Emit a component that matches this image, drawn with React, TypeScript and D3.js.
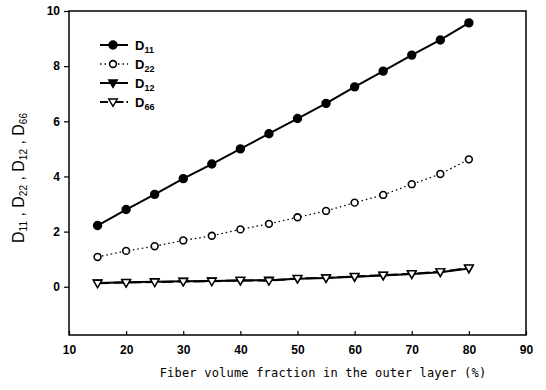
import React, { useEffect, useRef } from 'react';
import * as d3 from 'd3';

// Data
const fiberFraction = [15, 20, 25, 30, 35, 40, 45, 50, 55, 60, 65, 70, 75, 80];
const d11 = [2.22, 2.8, 3.35, 3.92, 4.45, 5.0, 5.55, 6.1, 6.65, 7.25, 7.82, 8.4, 8.95, 9.57];
const d22 = [1.08, 1.3, 1.47, 1.68, 1.85, 2.08, 2.28, 2.52, 2.75, 3.05, 3.33, 3.72, 4.09, 4.62];
const d12 = [0.14, 0.16, 0.18, 0.2, 0.21, 0.23, 0.24, 0.29, 0.32, 0.36, 0.41, 0.46, 0.53, 0.66];
const d66 = [0.13, 0.15, 0.17, 0.19, 0.2, 0.23, 0.22, 0.3, 0.32, 0.37, 0.42, 0.47, 0.54, 0.68];
const xTicks = [10, 20, 30, 40, 50, 60, 70, 80, 90];
const yTicks = [0, 2, 4, 6, 8, 10];

const App = () => {
  const ref = useRef<SVGSVGElement | null>(null);

  useEffect(() => {
    const svg = d3.select(ref.current);
    svg.selectAll('*').remove();

    const width = 546;
    const height = 390;
    const margin = { top: 11, right: 20, bottom: 55, left: 69 };
    const innerW = width - margin.left - margin.right;
    const innerH = height - margin.top - margin.bottom;
    const font = '"Liberation Sans", Arial, sans-serif';

    const x = d3.scaleLinear().domain([10, 90]).range([0, innerW]);
    const y = d3.scaleLinear().domain([-1.75, 10]).range([innerH, 0]);

    const g = svg.append('g').attr('transform', `translate(${margin.left},${margin.top})`);

    // frame
    g.append('rect')
      .attr('width', innerW)
      .attr('height', innerH)
      .attr('fill', 'none')
      .attr('stroke', '#000')
      .attr('stroke-width', 1.5);

    // y axis
    const yAxis = g.append('g')
      .call(d3.axisLeft(y).tickValues(yTicks).tickSize(5).tickPadding(4));
    yAxis.select('.domain').remove();
    yAxis.selectAll('line').attr('stroke-width', 1.2);
    yAxis.selectAll('text')
      .attr('font-family', font)
      .attr('font-weight', 'bold')
      .attr('font-size', '12px');

    // x axis (ticks inside)
    const xAxis = g.append('g')
      .attr('transform', `translate(0,${innerH})`)
      .call(d3.axisBottom(x).tickValues(xTicks).tickSize(-4).tickPadding(10));
    xAxis.select('.domain').remove();
    xAxis.selectAll('line').attr('stroke-width', 1.2);
    xAxis.selectAll('text')
      .attr('font-family', font)
      .attr('font-weight', 'bold')
      .attr('font-size', '12px');

    const series = [
      { key: 'D11', sub: '11', values: d11, dash: null, marker: 'circle', filled: true },
      { key: 'D22', sub: '22', values: d22, dash: '1.5,3', marker: 'circle', filled: false },
      { key: 'D12', sub: '12', values: d12, dash: null, marker: 'triangle', filled: true },
      { key: 'D66', sub: '66', values: d66, dash: '12,4', marker: 'triangle', filled: false },
    ];

    const line = d3.line<number>()
      .x((d, i) => x(fiberFraction[i]))
      .y(d => y(d));

    const tri = d3.symbol().type(d3.symbolTriangle).size(32)();

    const drawMarker = (sel: d3.Selection<SVGGElement, unknown, null, undefined>, s: typeof series[0], cx: number, cy: number) => {
      if (s.marker === 'circle') {
        sel.append('circle')
          .attr('cx', cx)
          .attr('cy', cy)
          .attr('r', s.filled ? 3.9 : 3.4)
          .attr('fill', s.filled ? '#000' : '#fff')
          .attr('stroke', '#000')
          .attr('stroke-width', 1.6);
      } else {
        sel.append('path')
          .attr('d', tri)
          .attr('transform', `translate(${cx},${cy - 0.5}) rotate(180)`)
          .attr('fill', s.filled ? '#000' : '#fff')
          .attr('stroke', '#000')
          .attr('stroke-width', 1.4);
      }
    };

    series.forEach(s => {
      g.append('path')
        .datum(s.values)
        .attr('d', line)
        .attr('fill', 'none')
        .attr('stroke', '#000')
        .attr('stroke-width', s.dash === '1.5,3' ? 1.3 : 2)
        .attr('stroke-dasharray', s.dash);
      const mg = g.append('g');
      s.values.forEach((v, i) => drawMarker(mg, s, x(fiberFraction[i]), y(v)));
    });

    // legend
    const legend = svg.append('g').attr('transform', 'translate(100,45)');
    series.forEach((s, i) => {
      const row = legend.append('g').attr('transform', `translate(0,${i * 19})`);
      row.append('line')
        .attr('x1', 0)
        .attr('x2', 28)
        .attr('stroke', '#000')
        .attr('stroke-width', s.dash === '1.5,3' ? 1.3 : 2)
        .attr('stroke-dasharray', s.dash === '12,4' ? '8,3,1.5,3' : s.dash);
      drawMarker(row, s, 13, 0);
      const t = row.append('text')
        .attr('x', 35)
        .attr('y', 5)
        .attr('font-family', font)
        .attr('font-weight', 'bold')
        .attr('font-size', '13px');
      t.append('tspan').text('D');
      t.append('tspan').attr('font-size', '9px').attr('dy', 3).text(s.sub);
    });

    // y label
    const yl = svg.append('text')
      .attr('transform', 'translate(24,178) rotate(-90)')
      .attr('text-anchor', 'middle')
      .attr('font-family', font)
      .attr('font-size', '16px');
    ['11', '22', '12', '66'].forEach((sub, i) => {
      yl.append('tspan').attr('dy', i === 0 ? 0 : -3).text(i === 0 ? 'D' : ' ,  D');
      yl.append('tspan').attr('font-size', '10px').attr('dy', 3).text(sub);
    });

    // x label
    svg.append('text')
      .attr('x', 323)
      .attr('y', 377)
      .attr('text-anchor', 'middle')
      .attr('font-family', '"DejaVu Sans Mono", monospace')
      .attr('font-size', '12px')
      .attr('letter-spacing', '0.2px')
      .text('Fiber volume fraction in the outer layer (%)');
  }, []);

  return (
    <svg
      ref={ref}
      width={546}
      height={390}
      style={{ position: 'absolute', left: 0, top: 0, background: '#fff' }}
    />
  );
};

export default App;
